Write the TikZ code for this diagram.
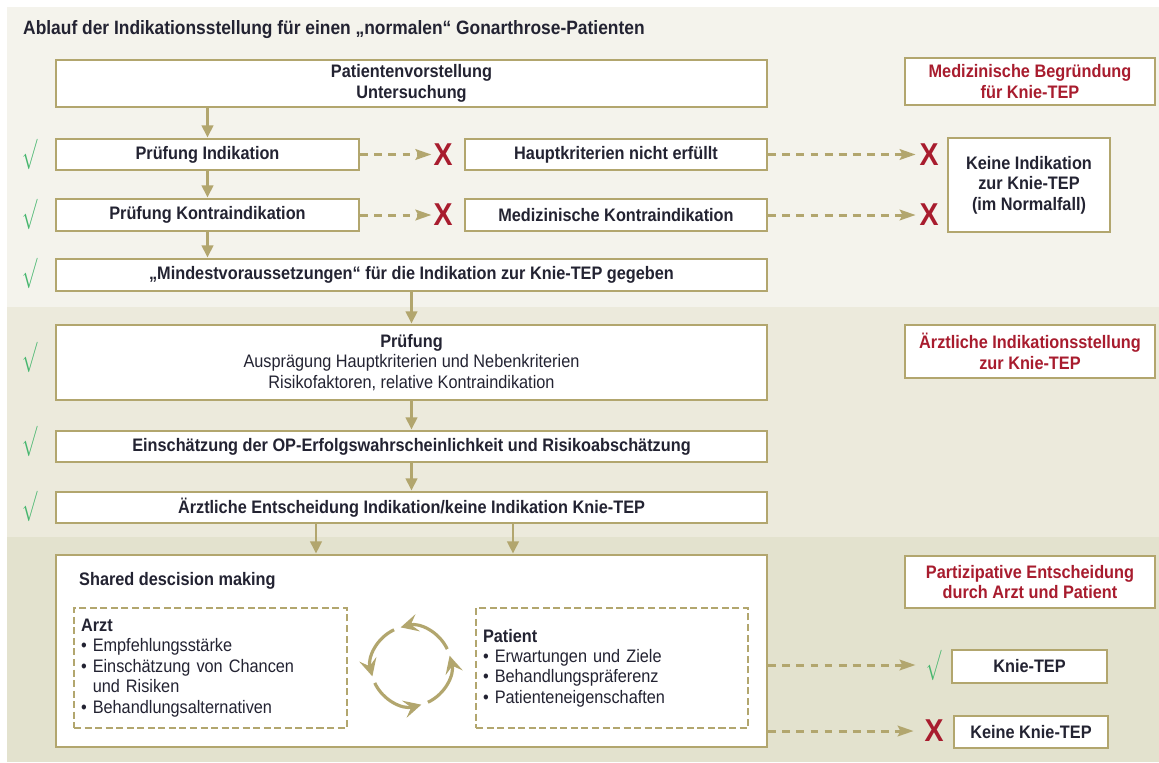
\documentclass[tikz,border=0pt]{standalone}
\usepackage{fontspec}
\setmainfont{Liberation Sans}[FakeStretch=0.9]
\usetikzlibrary{arrows.meta}

\definecolor{khaki}{RGB}{178,166,110}
\definecolor{darkred}{RGB}{168,28,46}
\definecolor{okgreen}{RGB}{70,182,110}
\definecolor{ink}{RGB}{35,35,50}
\definecolor{bandA}{RGB}{244,243,236}
\definecolor{bandB}{RGB}{236,234,220}
\definecolor{bandC}{RGB}{227,226,206}

\begin{document}
\begin{tikzpicture}[
  x=0.02cm, y=-0.02cm,
  every node/.style={font=\fontsize{10.3}{11.6}\selectfont, text=ink},
  box/.style={rectangle, draw=khaki, line width=1.6pt, fill=white, align=center, inner sep=2pt, font=\fontsize{10.3}{11.6}\selectfont\bfseries},
  label/.style={box, text=darkred, minimum width=5cm},
  listbox/.style={rectangle, draw=khaki, line width=1.4pt, dash pattern=on 4pt off 2pt, fill=white, align=left, inner xsep=0.14cm, minimum height=2.4cm},
  wire/.style={draw=khaki, line width=1.6pt, -{Triangle[length=7pt, width=6.5pt]}},
  dashwire/.style={draw=khaki, line width=1.7pt, dash pattern=on 4.5pt off 3.5pt, -{Stealth[length=9pt, width=6pt, inset=1.5pt]}},
  cyclewire/.style={draw=khaki, line width=1.8pt, -{Stealth[length=10pt, width=10pt, inset=4pt]}},
  nomark/.style={text=darkred, font=\fontsize{18}{18}\selectfont\bfseries, inner sep=0pt},
  okmark/.style={text=okgreen, font=\fontsize{18}{18}\selectfont, inner sep=0pt}
]
\useasboundingbox (0,0) rectangle (1159,762);

% Background bands
\fill[white] (0,0) rectangle (1159,762);
\fill[bandA] (7,7) rectangle (1159,307);
\fill[bandB] (7,307) rectangle (1159,537);
\fill[bandC] (7,537) rectangle (1159,762);

% Title
\node[anchor=west, font=\fontsize{11}{12}\selectfont\bfseries] (title) at (17,30) {Ablauf der Indikationsstellung für einen „normalen“ Gonarthrose-Patienten};

% Main column
\node[box, minimum width=14.22cm, minimum height=0.94cm] (vorst) at (411.5,83.5) {Patientenvorstellung\\Untersuchung};
\node[box, minimum width=6.06cm, minimum height=0.62cm] (pind) at (207.5,154.5) {Prüfung Indikation};
\node[box, minimum width=6.06cm, minimum height=0.64cm] (pkontra) at (207.5,215) {Prüfung Kontraindikation};
\node[box, minimum width=14.22cm, minimum height=0.64cm] (mindest) at (411.5,275) {„Mindestvoraussetzungen“ für die Indikation zur Knie-TEP gegeben};
\node[box, minimum width=14.22cm, minimum height=1.5cm] (pruef) at (411.5,362.5) {Prüfung\\\mdseries Ausprägung Hauptkriterien und Nebenkriterien\\\mdseries Risikofaktoren, relative Kontraindikation};
\node[box, minimum width=14.22cm, minimum height=0.62cm] (einsch) at (411.5,446.5) {Einschätzung der OP-Erfolgswahrscheinlichkeit und Risikoabschätzung};
\node[box, minimum width=14.22cm, minimum height=0.62cm] (entsch) at (411.5,507.5) {Ärztliche Entscheidung Indikation/keine Indikation Knie-TEP};
\node[box, minimum width=14.22cm, minimum height=3.84cm] (sdm) at (411.5,651) {};

% Shared decision making
\node[anchor=west, font=\fontsize{10.3}{11.6}\selectfont\bfseries] (sdmtitle) at (73,581) {Shared descision making};
\node[listbox, text width=5.18cm] (arzt) at (210.5,668) {\textbf{Arzt}\\\textbullet{} Empfehlungsstärke\\\textbullet{} Einschätzung von Chancen\\\phantom{\textbullet{} }und Risiken\\\textbullet{} Behandlungsalternativen};
\node[listbox, text width=5.16cm] (patient) at (612,668) {\textbf{Patient}\\\textbullet{} Erwartungen und Ziele\\\textbullet{} Behandlungspräferenz\\\textbullet{} Patienteneigenschaften};
\coordinate (cyc) at (411,666);
\draw[cyclewire] ([shift={(25:0.8cm)}]cyc) arc[start angle=25, end angle=105, radius=0.8cm];
\draw[cyclewire] ([shift={(115:0.8cm)}]cyc) arc[start angle=115, end angle=195, radius=0.8cm];
\draw[cyclewire] ([shift={(205:0.8cm)}]cyc) arc[start angle=205, end angle=285, radius=0.8cm];
\draw[cyclewire] ([shift={(295:0.8cm)}]cyc) arc[start angle=295, end angle=375, radius=0.8cm];

% Middle column
\node[box, minimum width=6.04cm, minimum height=0.62cm] (hkrit) at (616,154.5) {Hauptkriterien nicht erfüllt};
\node[box, minimum width=6.04cm, minimum height=0.64cm] (mkontra) at (616,215) {Medizinische Kontraindikation};

% Right column
\node[label, minimum height=0.94cm] (lblmed) at (1030,81.5) {Medizinische Begründung\\für Knie-TEP};
\node[box, minimum width=3.24cm, minimum height=1.88cm] (keine) at (1029,185) {Keine Indikation\\zur Knie-TEP\\(im Normalfall)};
\node[label, minimum height=1.06cm] (lblarzt) at (1030,351.5) {Ärztliche Indikationsstellung\\zur Knie-TEP};
\node[label, minimum height=1.04cm] (lblpart) at (1030,582) {Partizipative Entscheidung\\durch Arzt und Patient};
\node[box, minimum width=3.1cm, minimum height=0.66cm] (ktep) at (1029.5,666.5) {Knie-TEP};
\node[box, minimum width=3.08cm, minimum height=0.64cm] (kktep) at (1031,732) {Keine Knie-TEP};

% Marks
\node[okmark] (ok1) at (30,154) {\scalebox{0.6}[1]{$\surd$}};
\node[okmark] (ok2) at (30,214) {\scalebox{0.6}[1]{$\surd$}};
\node[okmark] (ok3) at (30,273) {\scalebox{0.6}[1]{$\surd$}};
\node[okmark] (ok4) at (30,357) {\scalebox{0.6}[1]{$\surd$}};
\node[okmark] (ok5) at (30,441) {\scalebox{0.6}[1]{$\surd$}};
\node[okmark] (ok6) at (30,506) {\scalebox{0.6}[1]{$\surd$}};
\node[okmark] (ok7) at (934,665) {\scalebox{0.6}[1]{$\surd$}};
\node[nomark] (no1) at (443,154.5) {X};
\node[nomark] (no2) at (443,215) {X};
\node[nomark] (no3) at (929,154.5) {X};
\node[nomark] (no4) at (929,215) {X};
\node[nomark] (no5) at (934,731) {X};

% Wires
\draw[wire] (vorst.south -| pind) -- (pind);
\draw[wire] (pind) -- (pkontra);
\draw[wire] (pkontra) -- (mindest.north -| pkontra);
\draw[wire] (mindest) -- (pruef);
\draw[wire] (pruef) -- (einsch);
\draw[wire] (einsch) -- (entsch);
\draw[wire] ([xshift=-1.91cm]entsch.south) -- ([xshift=-1.91cm]sdm.north);
\draw[wire] ([xshift=2.03cm]entsch.south) -- ([xshift=2.03cm]sdm.north);

% Dashed wires
\draw[dashwire] (pind.east) -- ([xshift=-1pt]no1.west);
\draw[dashwire] (pkontra.east) -- ([xshift=-1pt]no2.west);
\draw[dashwire] (hkrit.east) -- ([xshift=-2pt]no3.west);
\draw[dashwire] (mkontra.east) -- ([xshift=-2pt]no4.west);
\draw[dashwire] (ok7 -| sdm.east) -- ([xshift=-6pt]ok7.west);
\draw[dashwire] (no5 -| sdm.east) -- ([xshift=-6pt]no5.west);

\end{tikzpicture}
\end{document}
